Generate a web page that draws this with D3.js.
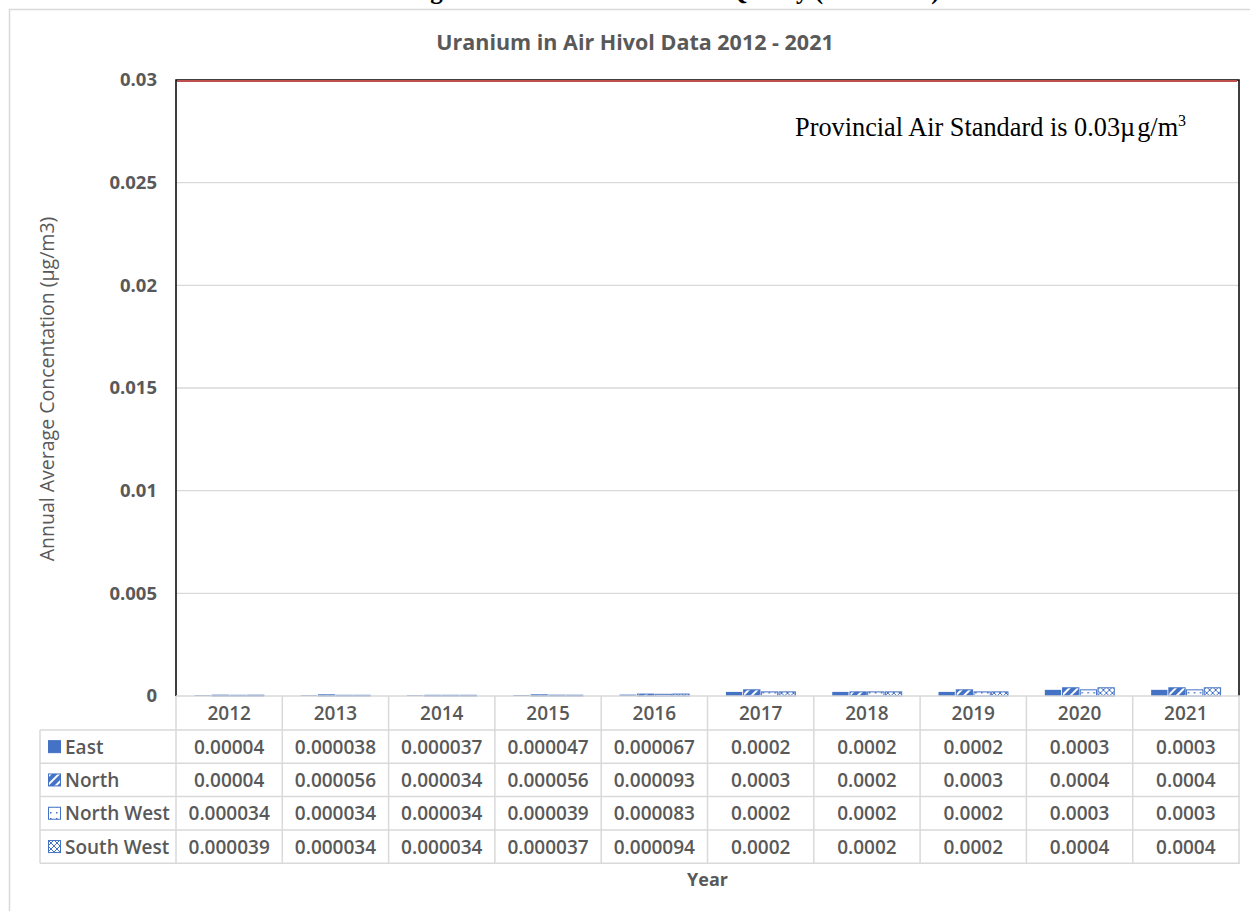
<!DOCTYPE html>
<html>
<head>
<meta charset="utf-8">
<script src="https://cdn.jsdelivr.net/npm/d3@7"></script>
<style>
    body { margin: 0; background: #fff; }
    svg { display: block; font-family: "Open Sans", sans-serif; }
</style>
</head>
<body>
<script>
let years = ['2012', '2013', '2014', '2015', '2016', '2017', '2018', '2019', '2020', '2021'],
    seriesNames = ['East', 'North', 'North West', 'South West'];

let east = [0.00004, 0.000038, 0.000037, 0.000047, 0.000067, 0.0002, 0.0002, 0.0002, 0.0003, 0.0003],
    north = [0.00004, 0.000056, 0.000034, 0.000056, 0.000093, 0.0003, 0.0002, 0.0003, 0.0004, 0.0004],
    northWest = [0.000034, 0.000034, 0.000034, 0.000039, 0.000083, 0.0002, 0.0002, 0.0002, 0.0003, 0.0003],
    southWest = [0.000039, 0.000034, 0.000034, 0.000037, 0.000094, 0.0002, 0.0002, 0.0002, 0.0004, 0.0004];

let yTicks = [0, 0.005, 0.01, 0.015, 0.02, 0.025, 0.03];
let standard = 0.03;

const width = 1250,
    height = 911;
const plot = { left: 176, right: 1239, top: 80, bottom: 696 };
const rowH = 33.3,
    headerH = 34,
    legendLeft = 40;

const blue = '#4472C4',
    grey = '#595959',
    gridColor = '#d9d9d9';

function createGraph() {
    const allSeries = [east, north, northWest, southWest];

    const svg = d3.select('body')
        .append('svg')
        .attr('width', width)
        .attr('height', height);

    // patterns for the hatched series
    const defs = svg.append('defs');
    const pNorth = defs.append('pattern').attr('id', 'p-north')
        .attr('patternUnits', 'userSpaceOnUse').attr('width', 6).attr('height', 6)
        .attr('patternTransform', 'rotate(45)');
    pNorth.append('rect').attr('width', 6).attr('height', 6).attr('fill', blue);
    pNorth.append('rect').attr('x', 0).attr('width', 2).attr('height', 6).attr('fill', '#fff');

    const pNW = defs.append('pattern').attr('id', 'p-nw')
        .attr('patternUnits', 'userSpaceOnUse').attr('width', 6).attr('height', 6);
    pNW.append('rect').attr('width', 6).attr('height', 6).attr('fill', '#fff');
    pNW.append('rect').attr('x', 2).attr('y', 2).attr('width', 1.5).attr('height', 1.5).attr('fill', blue);

    const pSW = defs.append('pattern').attr('id', 'p-sw')
        .attr('patternUnits', 'userSpaceOnUse').attr('width', 6).attr('height', 6);
    pSW.append('rect').attr('width', 6).attr('height', 6).attr('fill', '#fff');
    pSW.append('path').attr('d', 'M0,0L6,6M6,0L0,6').attr('stroke', blue).attr('stroke-width', 1);

    const fills = [blue, 'url(#p-north)', 'url(#p-nw)', 'url(#p-sw)'];

    // chart area border
    svg.append('rect')
        .attr('x', 9.5).attr('y', 9.5)
        .attr('width', width + 20).attr('height', height + 20)
        .attr('fill', 'none')
        .attr('stroke', gridColor)
        .attr('stroke-width', 1.5);

    // heading of the page above, cut off by the crop
    svg.append('text')
        .attr('x', 408).attr('y', -1)
        .attr('font-family', '"Liberation Serif", serif')
        .attr('font-weight', 'bold')
        .attr('font-size', 25)
        .attr('fill', '#000')
        .text('Figure 3: Uranium Data - Air Quality (2012-2021)');

    svg.append('text')
        .attr('x', 635).attr('y', 50)
        .attr('text-anchor', 'middle')
        .attr('font-weight', 'bold')
        .attr('font-size', 21.5)
        .attr('fill', grey)
        .text('Uranium in Air Hivol Data 2012 - 2021');

    const yScale = d3.scaleLinear()
        .domain([0, 0.03])
        .range([plot.bottom, plot.top]);

    const xScale = d3.scaleBand()
        .domain(years)
        .range([plot.left, plot.right])
        .paddingInner(0.32)
        .paddingOuter(0.16);

    const xCell = d3.scaleBand()
        .domain(years)
        .range([plot.left, plot.right]);

    const x1 = d3.scaleBand()
        .domain(seriesNames)
        .range([0, xScale.bandwidth()])
        .padding(0.08);

    // gridlines
    svg.append('g')
        .selectAll('line')
        .data(yTicks.filter(d => d > 0 && d < 0.03))
        .enter()
        .append('line')
        .attr('x1', plot.left).attr('x2', plot.right)
        .attr('y1', d => yScale(d)).attr('y2', d => yScale(d))
        .attr('stroke', gridColor)
        .attr('stroke-width', 1.3);

    // y axis labels
    const yAxis = d3.axisLeft(yScale)
        .tickValues(yTicks)
        .tickSize(0)
        .tickPadding(19)
        .tickFormat(d => d === 0 ? '0' : String(+d.toFixed(3)));

    svg.append('g')
        .attr('id', 'y-axis')
        .attr('transform', 'translate(' + plot.left + ',0)')
        .call(yAxis)
        .call(g => g.select('.domain').remove())
        .selectAll('text')
        .attr('font-family', '"Open Sans", sans-serif')
        .attr('font-weight', 'bold')
        .attr('font-size', 18.5)
        .attr('fill', grey);

    svg.append('text')
        .attr('transform', 'translate(54,' + 389 + ') rotate(-90)')
        .attr('text-anchor', 'middle')
        .attr('font-size', 19.5)
        .attr('fill', grey)
        .text('Annual Average Concentation (µg/m3)');

    // bars
    svg.append('g')
        .selectAll('g')
        .data(years)
        .enter()
        .append('g')
        .attr('transform', d => 'translate(' + xScale(d) + ',0)')
        .selectAll('rect')
        .data((d, i) => seriesNames.map((s, j) => ({ s: s, j: j, v: allSeries[j][i] })))
        .enter()
        .append('rect')
        .attr('x', d => x1(d.s))
        .attr('width', x1.bandwidth())
        .attr('y', d => yScale(d.v))
        .attr('height', d => plot.bottom - yScale(d.v))
        .attr('fill', d => fills[d.j])
        .attr('stroke', d => d.j === 0 ? 'none' : blue)
        .attr('stroke-width', 1);

    // plot frame
    svg.append('path')
        .attr('d', 'M' + plot.left + ',' + plot.bottom + 'V' + plot.top + 'H' + plot.right + 'V' + plot.bottom)
        .attr('fill', 'none')
        .attr('stroke', '#000')
        .attr('stroke-width', 1.5);

    // standard line
    svg.append('line')
        .attr('x1', plot.left + 1).attr('x2', plot.right - 2)
        .attr('y1', yScale(standard) + 1).attr('y2', yScale(standard) + 1)
        .attr('stroke', '#C0504D')
        .attr('stroke-width', 2);

    const note = svg.append('text')
        .attr('x', 795).attr('y', 136)
        .attr('font-family', '"Liberation Serif", serif')
        .attr('font-size', 26.3)
        .attr('fill', '#000');
    note.append('tspan').text('Provincial Air Standard is 0.03µ');
    note.append('tspan').attr('dx', 2).text('g/m');
    note.append('tspan').attr('dy', -10).attr('font-size', 16).text('3');

    // data table
    const tableTop = plot.bottom + headerH,
        tableBottom = tableTop + rowH * seriesNames.length;
    const table = svg.append('g').attr('class', 'table');

    table.append('line')
        .attr('x1', plot.left).attr('x2', plot.right + 1)
        .attr('y1', plot.bottom).attr('y2', plot.bottom)
        .attr('stroke', gridColor).attr('stroke-width', 1.5);

    table.selectAll('line.h')
        .data(d3.range(seriesNames.length + 1))
        .enter()
        .append('line')
        .attr('class', 'h')
        .attr('x1', legendLeft).attr('x2', plot.right + 1)
        .attr('y1', d => tableTop + d * rowH).attr('y2', d => tableTop + d * rowH)
        .attr('stroke', gridColor).attr('stroke-width', 1.5);

    table.selectAll('line.v')
        .data(years.concat(['end']))
        .enter()
        .append('line')
        .attr('class', 'v')
        .attr('x1', d => d === 'end' ? plot.right : xCell(d))
        .attr('x2', d => d === 'end' ? plot.right : xCell(d))
        .attr('y1', plot.bottom).attr('y2', tableBottom)
        .attr('stroke', gridColor).attr('stroke-width', 1.5);

    table.append('line')
        .attr('x1', legendLeft).attr('x2', legendLeft)
        .attr('y1', tableTop).attr('y2', tableBottom)
        .attr('stroke', gridColor).attr('stroke-width', 1.5);

    const cellFont = g => g
        .attr('font-weight', 600)
        .attr('font-size', 19)
        .attr('fill', grey)
        .attr('dominant-baseline', 'central');

    table.selectAll('text.year')
        .data(years)
        .enter()
        .append('text')
        .attr('class', 'year')
        .attr('x', d => xCell(d) + xCell.bandwidth() / 2)
        .attr('y', plot.bottom + headerH / 2)
        .attr('text-anchor', 'middle')
        .call(cellFont)
        .text(d => d);

    seriesNames.forEach((name, j) => {
        const cy = tableTop + rowH * j + rowH / 2;
        table.append('rect')
            .attr('x', 48.5).attr('y', cy - 6)
            .attr('width', 12).attr('height', 12)
            .attr('fill', fills[j])
            .attr('stroke', blue).attr('stroke-width', 1);
        table.append('text')
            .attr('x', 65).attr('y', cy)
            .call(cellFont)
            .text(name);
        table.selectAll('text.v' + j)
            .data(allSeries[j])
            .enter()
            .append('text')
            .attr('class', 'v' + j)
            .attr('x', (d, i) => xCell(years[i]) + xCell.bandwidth() / 2)
            .attr('y', cy)
            .attr('text-anchor', 'middle')
            .call(cellFont)
            .text(d => String(d));
    });

    svg.append('text')
        .attr('x', (plot.left + plot.right) / 2)
        .attr('y', 886)
        .attr('text-anchor', 'middle')
        .attr('font-weight', 'bold')
        .attr('font-size', 18)
        .attr('fill', grey)
        .text('Year');
}

document.addEventListener('DOMContentLoaded', function (e) {
    createGraph();
});
</script>
</body>
</html>
